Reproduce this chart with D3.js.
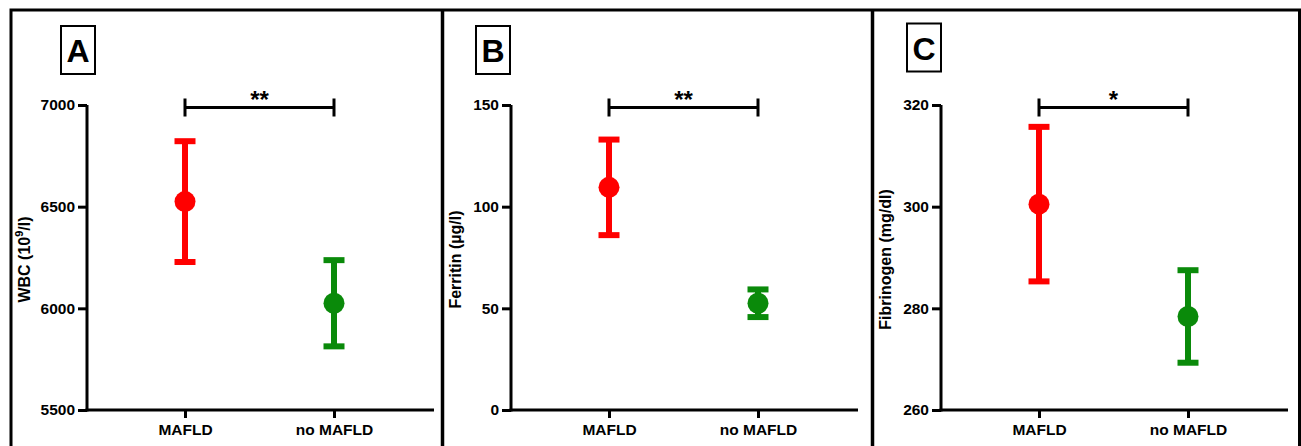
<!DOCTYPE html>
<html>
<head>
<meta charset="utf-8">
<script src="https://cdn.jsdelivr.net/npm/d3@7"></script>
<style>
  body { margin: 0; background: #fff; }
  svg { display: block; font-family: "Liberation Sans", Arial, sans-serif; font-weight: bold; }
  .axis path, .axis line { stroke: #000; stroke-width: 3; }
  .axis text { font-family: "Liberation Sans", Arial, sans-serif; font-size: 15.5px; font-weight: bold; fill: #000; }
</style>
</head>
<body>
<svg id="chart" width="1301" height="446"></svg>
<script>
// groups and colours
const groups = ['MAFLD', 'no MAFLD'];
const groupColors = ['#ff0000', '#0a8a0a'];

// panel A: WBC
const wbcMean = [6525, 6025];
const wbcErr = [297, 212];
const wbcTicks = [5500, 6000, 6500, 7000];

// panel B: ferritin
const ferritinMean = [109.5, 52.5];
const ferritinErr = [23.5, 6.8];
const ferritinTicks = [0, 50, 100, 150];

// panel C: fibrinogen
const fibMean = [300.5, 278.4];
const fibErr = [15.2, 9.1];
const fibTicks = [260, 280, 300, 320];

const panelLetters = ['A', 'B', 'C'];
const sigLabels = ['**', '**', '*'];

const panels = [
    {mean: wbcMean, err: wbcErr, ticks: wbcTicks, label: 'wbc',
     axisX: 87, boxX: 61, boxY: 26, labelX: 30},
    {mean: ferritinMean, err: ferritinErr, ticks: ferritinTicks, label: 'Ferritin (µg/l)',
     axisX: 511, boxX: 476, boxY: 26, labelX: 461},
    {mean: fibMean, err: fibErr, ticks: fibTicks, label: 'Fibrinogen (mg/dl)',
     axisX: 941, boxX: 907, boxY: 23.5, labelX: 891}
];

const svg = d3.select('#chart');
const yTop = 105, yBottom = 410;

// outer frame and dividers
svg.append('rect')
    .attr('x', 11).attr('y', 10)
    .attr('width', 1288.5).attr('height', 460)
    .attr('fill', 'none').attr('stroke', '#000').attr('stroke-width', 3);
[442.5, 872.5].forEach(x => {
    svg.append('line')
        .attr('x1', x).attr('x2', x).attr('y1', 10).attr('y2', 446)
        .attr('stroke', '#000').attr('stroke-width', 3.5);
});

panels.forEach((p, i) => {
    const g = svg.append('g');
    const ax = p.axisX;

    const y = d3.scaleLinear()
        .domain([p.ticks[0], p.ticks[p.ticks.length - 1]])
        .range([yBottom, yTop]);
    const x = d3.scalePoint()
        .domain(groups)
        .range([ax + 98, ax + 247]);

    // y axis
    g.append('g')
        .classed('axis', true)
        .attr('transform', `translate(${ax}, 0)`)
        .call(d3.axisLeft(y).tickValues(p.ticks).tickFormat(d3.format('d'))
            .tickSize(9).tickSizeOuter(0).tickPadding(3))
        .select('.domain').attr('d', `M0,${yTop}V${yBottom + 1.5}`);

    // x axis
    g.append('g')
        .classed('axis', true)
        .attr('transform', `translate(0, ${yBottom})`)
        .call(d3.axisBottom(x).tickSize(8).tickSizeOuter(0).tickPadding(6))
        .select('.domain').attr('d', `M${ax - 1.5},0H${ax + 347}`);

    // y label
    const yl = g.append('text')
        .attr('transform', `translate(${p.labelX}, ${(yTop + yBottom) / 2 + 2}) rotate(-90)`)
        .attr('text-anchor', 'middle')
        .style('font-size', '16px');
    if (p.label === 'wbc') {
        yl.append('tspan').text('WBC (10');
        yl.append('tspan').attr('dy', -7).style('font-size', '11px').text('9');
        yl.append('tspan').attr('dy', 7).text('/l)');
    } else {
        yl.text(p.label);
    }

    // panel letter box
    g.append('rect')
        .attr('x', p.boxX).attr('y', p.boxY)
        .attr('width', 34).attr('height', 48)
        .attr('fill', 'none').attr('stroke', '#000').attr('stroke-width', 2);
    g.append('text')
        .attr('x', p.boxX + 17).attr('y', p.boxY + 36)
        .attr('text-anchor', 'middle')
        .style('font-size', '32px')
        .text(panelLetters[i]);

    // significance bracket
    const bx1 = x(groups[0]), bx2 = x(groups[1]), by = 107.5;
    g.append('path')
        .attr('d', `M${bx1},${by}H${bx2}M${bx1},${by - 9}V${by + 9}M${bx2},${by - 9}V${by + 9}`)
        .attr('fill', 'none').attr('stroke', '#000').attr('stroke-width', 3);
    g.append('text')
        .attr('x', (bx1 + bx2) / 2).attr('y', 108)
        .attr('text-anchor', 'middle')
        .style('font-size', '24px')
        .text(sigLabels[i]);

    // error bars and means
    const pts = groups.map((k, j) => ({k, m: p.mean[j], e: p.err[j], c: groupColors[j]}));
    const bars = g.selectAll('.bar').data(pts).join('g').classed('bar', true);
    bars.append('line')
        .attr('x1', d => x(d.k)).attr('x2', d => x(d.k))
        .attr('y1', d => y(d.m + d.e)).attr('y2', d => y(d.m - d.e))
        .attr('stroke', d => d.c).attr('stroke-width', 6);
    bars.selectAll('.cap')
        .data(d => [d.m + d.e, d.m - d.e].map(v => ({v, d})))
        .join('line')
        .attr('x1', c => x(c.d.k) - 10.5).attr('x2', c => x(c.d.k) + 10.5)
        .attr('y1', c => y(c.v)).attr('y2', c => y(c.v))
        .attr('stroke', c => c.d.c).attr('stroke-width', 6);
    bars.append('circle')
        .attr('cx', d => x(d.k)).attr('cy', d => y(d.m))
        .attr('r', 10.5)
        .attr('fill', d => d.c);
});
</script>
</body>
</html>
